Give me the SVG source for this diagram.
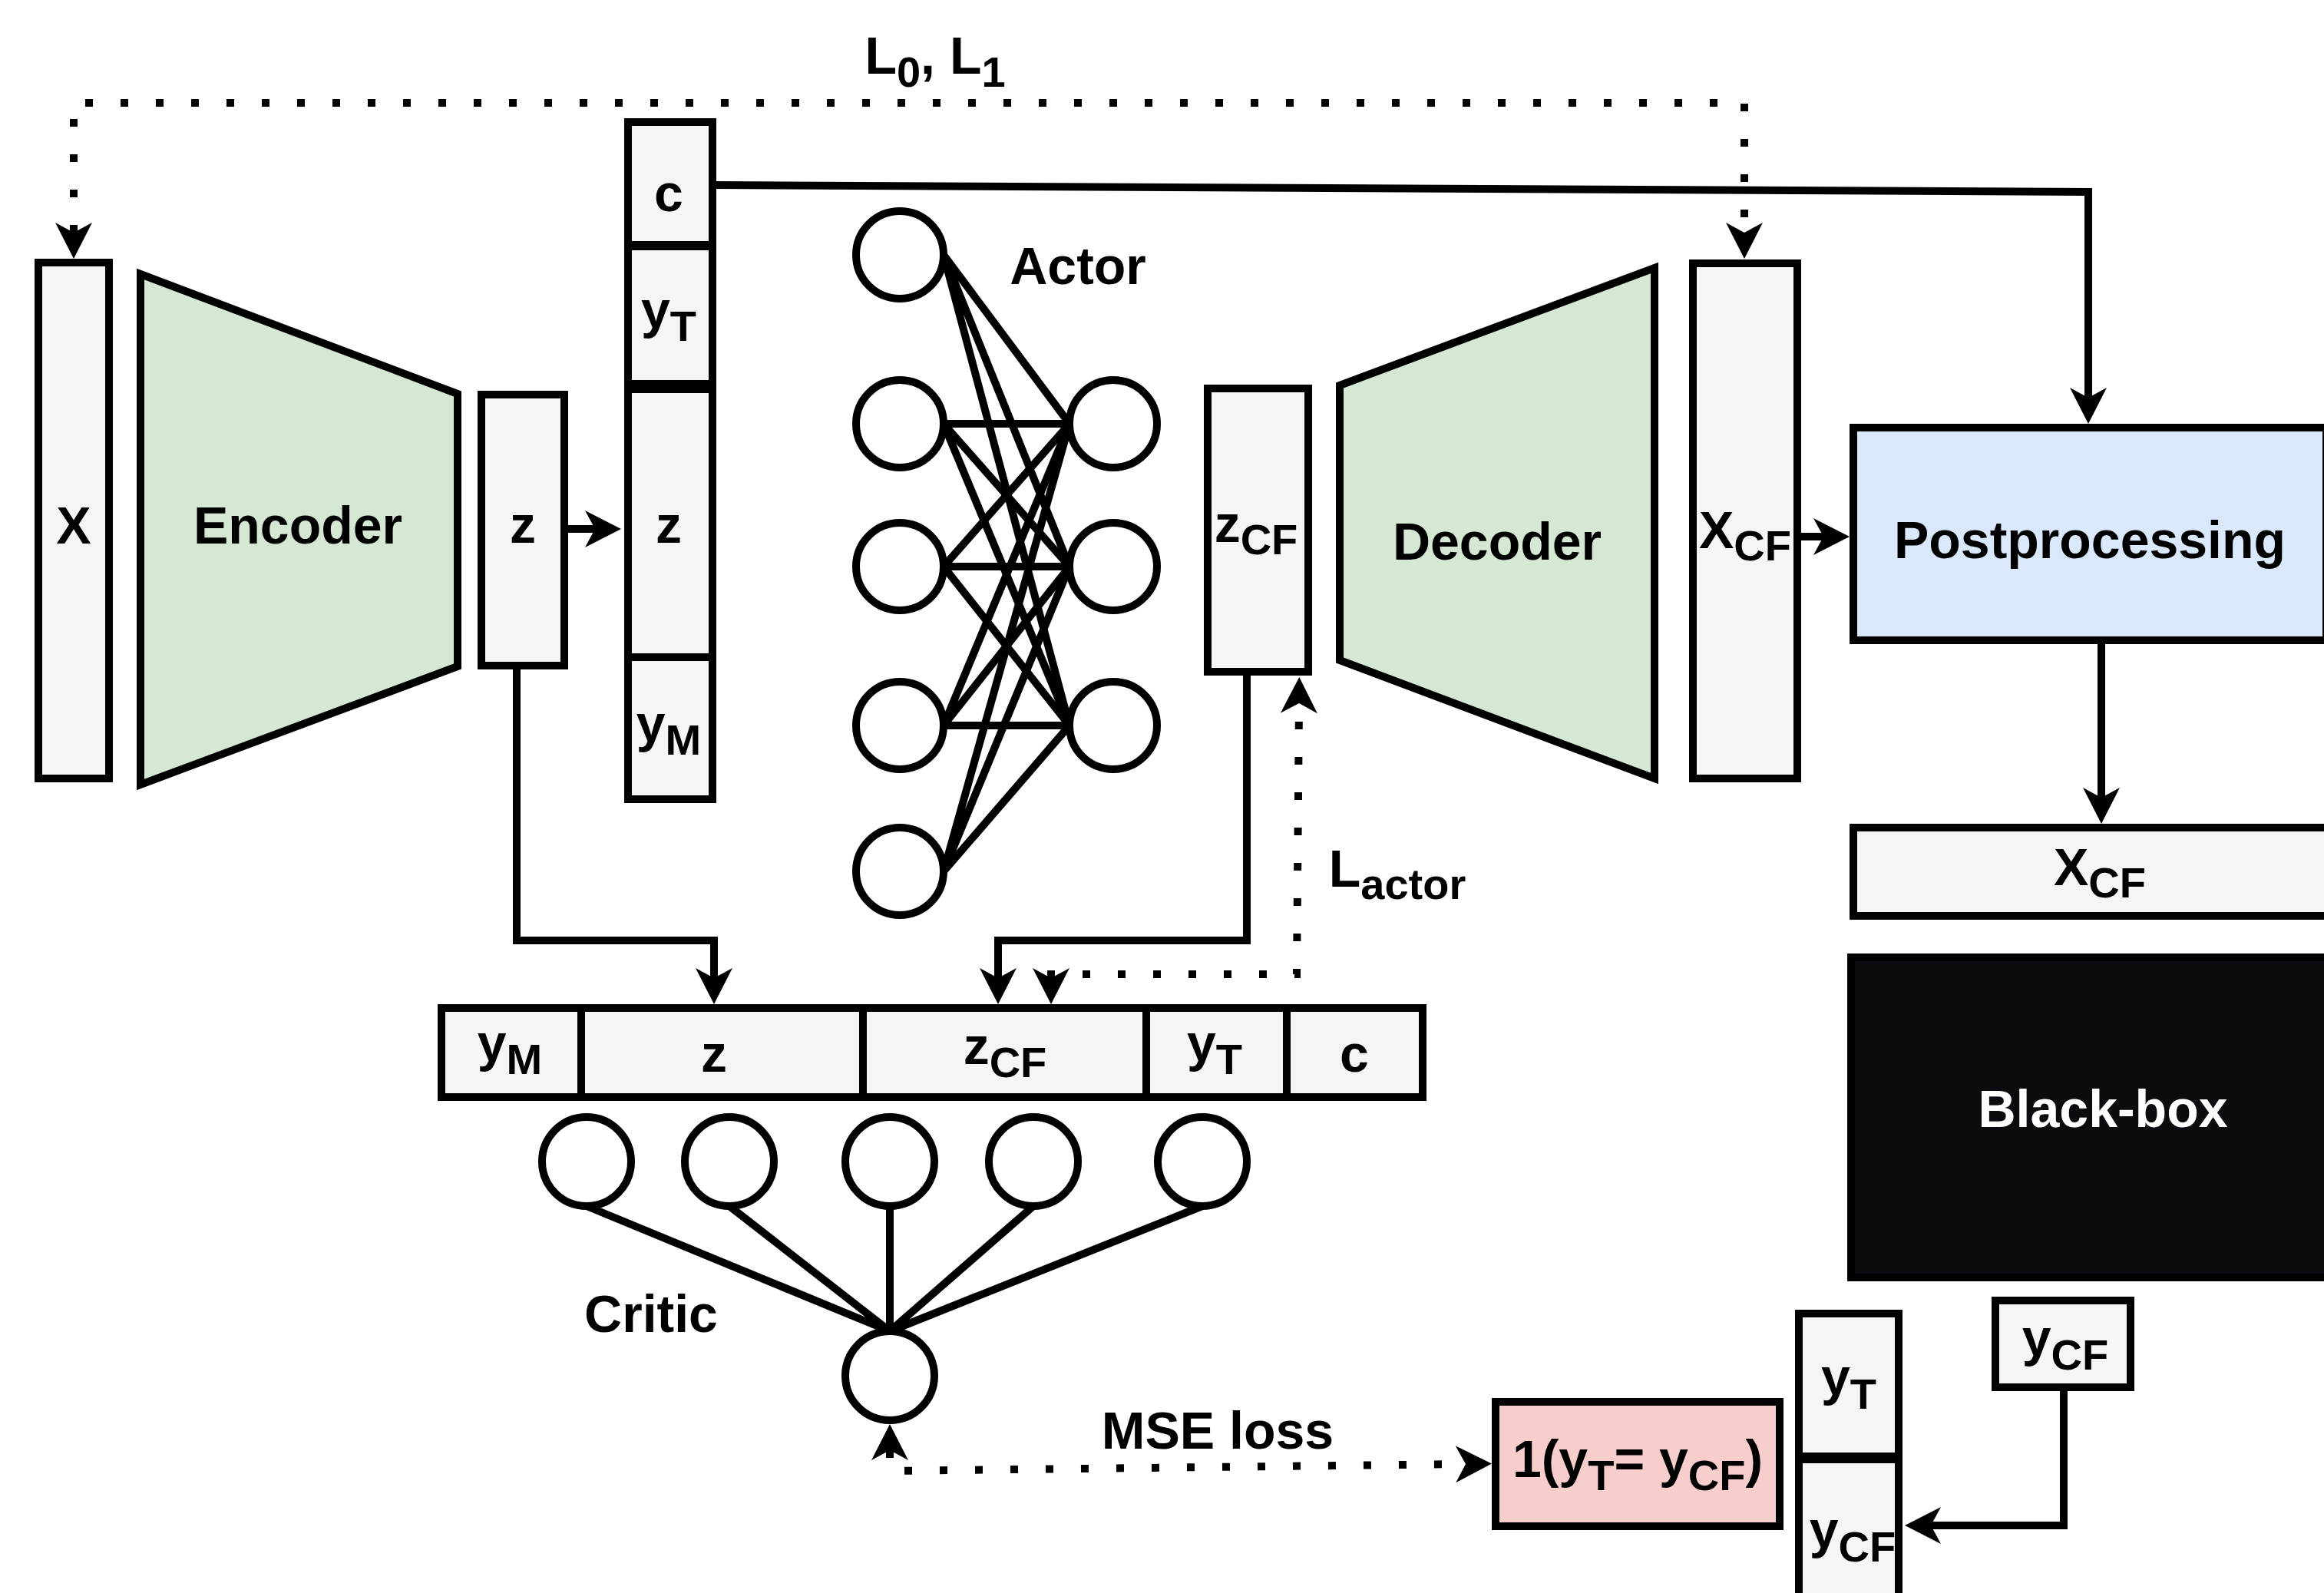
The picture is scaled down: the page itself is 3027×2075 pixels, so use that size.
<svg xmlns="http://www.w3.org/2000/svg" width="3027" height="2075" viewBox="0 0 3027 2075">
<defs>
<style>
.box{fill:#f5f5f5;stroke:#000;stroke-width:10}
.trap{fill:#d5e8d4;stroke:#000;stroke-width:10;stroke-linejoin:miter}
.node{fill:#fff;stroke:#000;stroke-width:10}
.edge{fill:none;stroke:#000;stroke-width:10}
.dot{fill:none;stroke:#000;stroke-width:10;stroke-dasharray:10 36}
.lbl{font-family:"Liberation Sans",Arial,sans-serif;font-weight:bold;font-size:68px;fill:#000;text-anchor:middle}
.sub{font-size:56px}
.w{fill:#fff}
</style>
<marker id="arr" viewBox="0 0 47 48" refX="13" refY="24" markerWidth="47" markerHeight="48" markerUnits="userSpaceOnUse" orient="auto-start-reverse" overflow="visible">
<path d="M0,0 L47,24 L0,48 L13,24 Z" fill="#000"/>
</marker>
</defs>
<rect width="3027" height="2075" fill="#fff"/>

<g id="connectors">
<path class="dot" d="M96,303 L96,134 L2272,134 L2272,303" marker-start="url(#arr)" marker-end="url(#arr)"/>
<path class="edge" d="M930,241 L2720,250 L2720,518" marker-end="url(#arr)"/>
<path class="edge" d="M735,689 L775,689" marker-end="url(#arr)"/>
<path class="edge" d="M2341,699 L2375,699" marker-end="url(#arr)"/>
<path class="edge" d="M2737,834 L2737,1039" marker-end="url(#arr)"/>
<path class="edge" d="M2688,1807 L2688,1987 L2515,1987" marker-end="url(#arr)"/>
<path class="edge" d="M673,867 L673,1225 L930,1225 L930,1274" marker-end="url(#arr)"/>
<path class="edge" d="M1624,875 L1624,1225 L1300,1225 L1300,1274" marker-end="url(#arr)"/>
<path class="dot" d="M1369,1274 L1369,1269 L1689,1269 L1692,916" marker-start="url(#arr)" marker-end="url(#arr)"/>
<path class="dot" d="M1159,1889 L1159,1916 L1909,1907" marker-start="url(#arr)" marker-end="url(#arr)"/>
<g id="actor-links" class="edge">
<path d="M1229,332 L1393,552 M1229,332 L1393,738 M1229,332 L1393,945"/>
<path d="M1229,552 L1393,552 M1229,552 L1393,738 M1229,552 L1393,945"/>
<path d="M1229,738 L1393,552 M1229,738 L1393,738 M1229,738 L1393,945"/>
<path d="M1229,945 L1393,552 M1229,945 L1393,738 M1229,945 L1393,945"/>
<path d="M1229,1135 L1393,552 M1229,1135 L1393,738 M1229,1135 L1393,945"/>
</g>
<g id="critic-links" class="edge">
<path d="M764,1571 L1159,1734 M950,1571 L1159,1734 M1159,1571 L1159,1734 M1346,1571 L1159,1734 M1566,1571 L1159,1734"/>
</g>
</g>

<g id="input-x">
<rect class="box" x="50" y="342" width="92" height="672"/>
<text class="lbl" x="96" y="708">X</text>
</g>
<g id="encoder">
<polygon class="trap" points="183,357 596,513 596,868 183,1022"/>
<text class="lbl" x="388" y="708">Encoder</text>
</g>
<g id="latent-z">
<rect class="box" x="627" y="514" width="108" height="353"/>
<text class="lbl" x="681" y="707">z</text>
</g>
<g id="actor-input">
<rect class="box" x="818" y="159" width="110" height="160"/>
<text class="lbl" x="871" y="275">c</text>
<rect class="box" x="818" y="321" width="110" height="179"/>
<text class="lbl" x="871" y="427">y<tspan class="sub" dy="17">T</tspan></text>
<rect class="box" x="818" y="507" width="110" height="349"/>
<text class="lbl" x="871" y="707">z</text>
<rect class="box" x="818" y="856" width="110" height="185"/>
<text class="lbl" x="871" y="966">y<tspan class="sub" dy="17">M</tspan></text>
</g>
<g id="actor">
<circle class="node" cx="1172" cy="332" r="57"/>
<circle class="node" cx="1172" cy="552" r="57"/>
<circle class="node" cx="1172" cy="738" r="57"/>
<circle class="node" cx="1172" cy="945" r="57"/>
<circle class="node" cx="1172" cy="1135" r="57"/>
<circle class="node" cx="1450" cy="552" r="57"/>
<circle class="node" cx="1450" cy="738" r="57"/>
<circle class="node" cx="1450" cy="945" r="57"/>
<text class="lbl" x="1404" y="370">Actor</text>
</g>
<g id="z-cf">
<rect class="box" x="1573" y="506" width="131" height="369"/>
<text class="lbl" x="1636" y="706">z<tspan class="sub" dy="16">CF</tspan></text>
</g>
<g id="decoder">
<polygon class="trap" points="1745,502 2155,349 2155,1014 1745,860"/>
<text class="lbl" x="1950" y="729">Decoder</text>
</g>
<g id="x-cf">
<rect class="box" x="2205" y="343" width="136" height="671"/>
<text class="lbl" x="2273" y="714">X<tspan class="sub" dy="16">CF</tspan></text>
</g>
<g id="postprocessing">
<rect x="2414" y="557" width="616" height="277" fill="#dae8fc" stroke="#000" stroke-width="10"/>
<text class="lbl" x="2722" y="727">Postprocessing</text>
</g>
<g id="x-cf-out">
<rect class="box" x="2414" y="1078" width="650" height="115"/>
<text class="lbl" x="2735" y="1153">X<tspan class="sub" dy="16">CF</tspan></text>
</g>
<g id="black-box">
<rect x="2411" y="1247" width="660" height="417" fill="#0d0b10" stroke="#000" stroke-width="10"/>
<text class="lbl w" x="2739" y="1468">Black-box</text>
</g>
<g id="y-cf">
<rect class="box" x="2599" y="1694" width="176" height="113"/>
<text class="lbl" x="2690" y="1766">y<tspan class="sub" dy="18">CF</tspan></text>
</g>
<g id="label-pair">
<rect class="box" x="2343" y="1711" width="130" height="186"/>
<text class="lbl" x="2408" y="1817">y<tspan class="sub" dy="18">T</tspan></text>
<rect class="box" x="2343" y="1901" width="130" height="200"/>
<text class="lbl" x="2413" y="2016">y<tspan class="sub" dy="18">CF</tspan></text>
</g>
<g id="indicator">
<rect x="1948" y="1826" width="370" height="162" fill="#f8cecc" stroke="#000" stroke-width="10"/>
<text class="lbl" x="2133" y="1924">1(y<tspan class="sub" dy="17">T</tspan><tspan dy="-17">= y</tspan><tspan class="sub" dy="17">CF</tspan><tspan dy="-17">)</tspan></text>
</g>
<g id="critic-input">
<rect class="box" x="575" y="1313" width="182" height="116"/>
<text class="lbl" x="664" y="1382">y<tspan class="sub" dy="17">M</tspan></text>
<rect class="box" x="757" y="1313" width="367" height="116"/>
<text class="lbl" x="930" y="1396">z</text>
<rect class="box" x="1124" y="1313" width="369" height="116"/>
<text class="lbl" x="1309" y="1386">z<tspan class="sub" dy="17">CF</tspan></text>
<rect class="box" x="1493" y="1313" width="183" height="116"/>
<text class="lbl" x="1582" y="1382">y<tspan class="sub" dy="17">T</tspan></text>
<rect class="box" x="1676" y="1313" width="177" height="116"/>
<text class="lbl" x="1764" y="1396">c</text>
</g>
<g id="critic">
<circle class="node" cx="764" cy="1513" r="58"/>
<circle class="node" cx="950" cy="1513" r="58"/>
<circle class="node" cx="1159" cy="1513" r="58"/>
<circle class="node" cx="1346" cy="1513" r="58"/>
<circle class="node" cx="1566" cy="1513" r="58"/>
<circle class="node" cx="1159" cy="1792" r="58"/>
<text class="lbl" x="848" y="1735">Critic</text>
</g>
<g id="edge-labels">
<text class="lbl" x="1218" y="96">L<tspan class="sub" dy="17">0</tspan><tspan dy="-17">, L</tspan><tspan class="sub" dy="17">1</tspan></text>
<text class="lbl" x="1820" y="1155">L<tspan class="sub" dy="16">actor</tspan></text>
<text class="lbl" x="1586" y="1887">MSE loss</text>
</g>
</svg>
